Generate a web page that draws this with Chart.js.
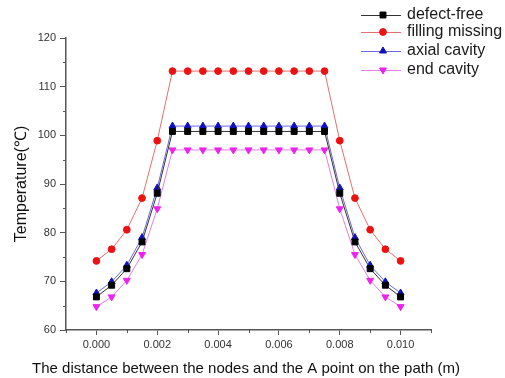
<!DOCTYPE html>
<html><head><meta charset="utf-8">
<script src="https://cdn.jsdelivr.net/npm/chart.js@4/dist/chart.umd.min.js"></script>
<style>html,body{margin:0;padding:0;background:#fff}#wrap{width:505px;height:378px;position:relative}</style>
</head><body><div id="wrap"><canvas id="c" width="505" height="378"></canvas></div>
<script>
const positions = [0,0.0005,0.001,0.0015,0.002,0.0025,0.003,0.0035,0.004,0.0045,0.005,0.0055,0.006,0.0065,0.007,0.0075,0.008,0.0085,0.009,0.0095,0.01];
const defectFree = [66.8,69.2,72.6,78.1,88.1,100.8,100.8,100.8,100.8,100.8,100.8,100.8,100.8,100.8,100.8,100.8,88.1,78.1,72.6,69.2,66.8];
const fillingMissing = [74.2,76.6,80.6,87.1,98.9,113.2,113.2,113.2,113.2,113.2,113.2,113.2,113.2,113.2,113.2,113.2,98.9,87.1,80.6,76.6,74.2];
const axialCavity = [67.6,69.9,73.3,79.0,89.2,101.9,101.9,101.9,101.9,101.9,101.9,101.9,101.9,101.9,101.9,101.9,89.2,79.0,73.3,69.9,67.6];
const endCavity = [64.8,66.8,70.2,75.5,84.9,97.0,97.0,97.0,97.0,97.0,97.0,97.0,97.0,97.0,97.0,97.0,84.9,75.5,70.2,66.8,64.8];
const seriesNames = ['defect-free','filling missing','axial cavity','end cavity'];
const xMajorTicks = [0,0.002,0.004,0.006,0.008,0.010];
const xMinorTicks = [-0.001,0.001,0.003,0.005,0.007,0.009,0.011];
const yMajorTicks = [60,70,80,90,100,110,120];
const yMinorTicks = [65,75,85,95,105,115];
const xTitle = 'The distance between the nodes and the A point on the path (m)';
const yTitle = 'Temperature(℃)';

const FONT = "'Liberation Sans', Arial, sans-serif";
const toPts = arr => arr.map((v,i)=>({x:positions[i], y:v}));

const styles = [
  {line:'#333333', fill:'#000000', pt:'rect', r:4.2, rot:0},
  {line:'#e07070', fill:'#ee1111', pt:'circle', r:3.4, rot:0},
  {line:'#6a6ad8', fill:'#1010c0', pt:'triangle', r:4.0, rot:0},
  {line:'#e080e0', fill:'#ee22ee', pt:'triangle', r:4.0, rot:180}
];
const seriesData = [defectFree, fillingMissing, axialCavity, endCavity];

const minorTicks = {
  id:'minorTicks',
  afterDraw(chart){
    const ctx = chart.ctx, xs = chart.scales.x, ys = chart.scales.y;
    ctx.save();
    ctx.strokeStyle = '#555'; ctx.lineWidth = 1;
    ctx.beginPath();
    xMinorTicks.forEach(v=>{ const px = Math.round(xs.getPixelForValue(v))+0.5; ctx.moveTo(px, ys.bottom); ctx.lineTo(px, ys.bottom+3); });
    yMinorTicks.forEach(v=>{ const py = Math.round(ys.getPixelForValue(v))+0.5; ctx.moveTo(xs.left, py); ctx.lineTo(xs.left-3, py); });
    ctx.stroke();
    // x axis title (drawn without width compression)
    ctx.fillStyle = '#111';
    ctx.font = "15px " + FONT;
    ctx.textAlign = 'center';
    ctx.textBaseline = 'alphabetic';
    ctx.fillText(xTitle, 246, 373);
    ctx.restore();
  }
};

const customLegend = {
  id:'customLegend',
  afterDraw(chart){
    const ctx = chart.ctx;
    ctx.save();
    const rows = [15,32,51,70];
    chart.data.datasets.forEach((ds,i)=>{
      const y = rows[i];
      ctx.strokeStyle = ds.borderColor; ctx.lineWidth = 1;
      ctx.beginPath(); ctx.moveTo(361, y+0.5); ctx.lineTo(401, y+0.5); ctx.stroke();
      ctx.fillStyle = ds.pointBackgroundColor; ctx.strokeStyle = ds.pointBorderColor;
      Chart.helpers.drawPoint(ctx, {pointStyle: ds.pointStyle, radius: ds.pointRadius, rotation: ds.pointRotation, borderWidth:1}, 383, y);
      ctx.fillStyle = '#1a1a1a';
      ctx.font = "16px " + FONT;
      ctx.textBaseline = 'middle';
      ctx.fillText(ds.label, 407, y);
    });
    ctx.restore();
  }
};

const datasets = seriesData.map((d,i)=>({
  label: seriesNames[i],
  data: toPts(d),
  borderColor: styles[i].line,
  borderWidth: 1,
  pointStyle: styles[i].pt,
  pointRadius: styles[i].r,
  pointRotation: styles[i].rot,
  pointBackgroundColor: styles[i].fill,
  pointBorderColor: styles[i].fill,
  pointBorderWidth: 1,
  tension: 0,
  fill: false
}));

new Chart(document.getElementById('c'), {
  type:'line',
  data:{datasets},
  plugins:[minorTicks, customLegend],
  options:{
    responsive:false, animation:false,
    layout:{padding:{left:0,right:74,top:38,bottom:0}},
    plugins:{legend:{display:false}, tooltip:{enabled:false}},
    scales:{
      x:{
        type:'linear', min:-0.001, max:0.011,
        afterBuildTicks: s => { s.ticks = xMajorTicks.map(v=>({value:v})); },
        afterFit: s => { s.height = 48; },
        grid:{drawOnChartArea:false, drawTicks:true, tickLength:5, color:'#555'},
        border:{display:true, color:'#555', width:1.5},
        ticks:{color:'#333', font:{family:FONT,size:11}, padding:3, maxRotation:0,
          callback: v => Number(v).toFixed(3)},
        title:{display:false}
      },
      y:{
        type:'linear', min:60, max:120,
        afterBuildTicks: s => { s.ticks = yMajorTicks.map(v=>({value:v})); },
        afterFit: s => { s.width = 66; },
        grid:{drawOnChartArea:false, drawTicks:true, tickLength:6, color:'#555'},
        border:{display:true, color:'#555', width:1.5},
        ticks:{color:'#333', font:{family:FONT,size:11}, padding:4},
        title:{display:true, text:yTitle, color:'#111', font:{family:FONT,size:16}, padding:{top:12,bottom:0}}
      }
    }
  }
});
</script></body></html>
